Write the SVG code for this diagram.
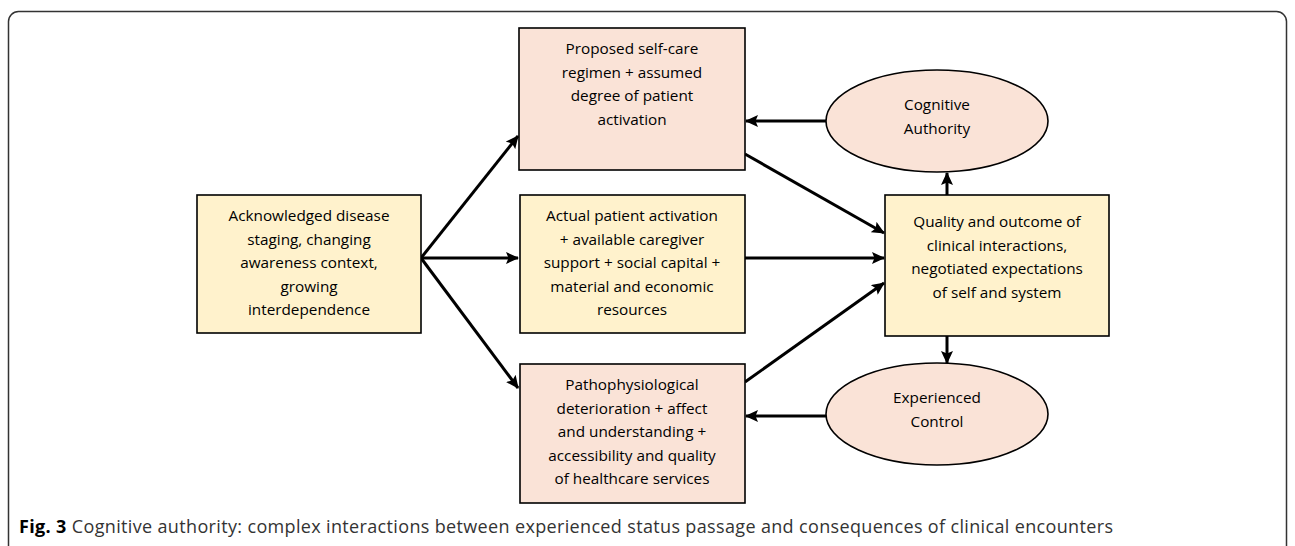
<svg xmlns="http://www.w3.org/2000/svg" width="1295" height="546" viewBox="0 0 1295 546">
<style>
.box{stroke:#000;stroke-width:1.6}
.peach{fill:#FAE3D7}
.yel{fill:#FFF2CC}
.t{font-family:"Open Sans","Liberation Sans",sans-serif;font-size:15.3px;fill:#000;text-anchor:middle}
.c{stroke:#000;stroke-width:3;fill:none;marker-end:url(#ah)}
.cap{font-family:"Open Sans","Liberation Sans",sans-serif;font-size:18px;fill:#333}
</style>
<defs>
<marker id="ah" viewBox="0 0 13 12" refX="12" refY="6" markerWidth="13" markerHeight="12" orient="auto" markerUnits="userSpaceOnUse">
<path d="M0,0 L13,6 L0,12 L2.5,6 z" fill="#000"/>
</marker>
</defs>
<rect x="8.5" y="11.5" width="1278" height="580" rx="10" fill="#fff" stroke="#333" stroke-width="1.5"/>
<g id="connectors">
<line class="c" x1="421" y1="258" x2="518" y2="136"/>
<line class="c" x1="421" y1="258" x2="518" y2="258"/>
<line class="c" x1="421" y1="258" x2="518" y2="388"/>
<line class="c" x1="745" y1="154" x2="884" y2="233"/>
<line class="c" x1="745" y1="258" x2="884" y2="258"/>
<line class="c" x1="745" y1="382" x2="884" y2="283"/>
<line class="c" x1="826" y1="121" x2="746" y2="121"/>
<line class="c" x1="947" y1="195" x2="947" y2="173"/>
<line class="c" x1="947" y1="336" x2="947" y2="363"/>
<line class="c" x1="826" y1="416" x2="746" y2="416"/>
</g>
<g id="proposed">
<rect class="box peach" x="519" y="28" width="226" height="142"/>
<text class="t" x="632" y="54">Proposed self-care</text>
<text class="t" x="632" y="78">regimen + assumed</text>
<text class="t" x="632" y="101">degree of patient</text>
<text class="t" x="632" y="125">activation</text>
</g>
<g id="cognitive">
<ellipse class="box peach" cx="937" cy="121" rx="111" ry="51"/>
<text class="t" x="937" y="110">Cognitive</text>
<text class="t" x="937" y="134">Authority</text>
</g>
<g id="acknowledged">
<rect class="box yel" x="197" y="195" width="224" height="138"/>
<text class="t" x="309" y="221">Acknowledged disease</text>
<text class="t" x="309" y="245">staging, changing</text>
<text class="t" x="309" y="268">awareness context,</text>
<text class="t" x="309" y="292">growing</text>
<text class="t" x="309" y="315">interdependence</text>
</g>
<g id="actual">
<rect class="box yel" x="520" y="195" width="225" height="138"/>
<text class="t" x="632" y="221">Actual patient activation</text>
<text class="t" x="632" y="245">+ available caregiver</text>
<text class="t" x="632" y="268">support + social capital +</text>
<text class="t" x="632" y="292">material and economic</text>
<text class="t" x="632" y="315">resources</text>
</g>
<g id="quality">
<rect class="box yel" x="885" y="195" width="224" height="141"/>
<text class="t" x="997" y="227">Quality and outcome of</text>
<text class="t" x="997" y="251">clinical interactions,</text>
<text class="t" x="997" y="274">negotiated expectations</text>
<text class="t" x="997" y="298">of self and system</text>
</g>
<g id="patho">
<rect class="box peach" x="520" y="364" width="225" height="139"/>
<text class="t" x="632" y="390">Pathophysiological</text>
<text class="t" x="632" y="414">deterioration + affect</text>
<text class="t" x="632" y="437">and understanding +</text>
<text class="t" x="632" y="461">accessibility and quality</text>
<text class="t" x="632" y="484">of healthcare services</text>
</g>
<g id="experienced">
<ellipse class="box peach" cx="937" cy="414" rx="111" ry="51"/>
<text class="t" x="937" y="403">Experienced</text>
<text class="t" x="937" y="427">Control</text>
</g>
<text class="cap" x="19" y="533" textLength="1094" lengthAdjust="spacing"><tspan font-weight="bold" fill="#000">Fig. 3</tspan> Cognitive authority: complex interactions between experienced status passage and consequences of clinical encounters</text>
</svg>
